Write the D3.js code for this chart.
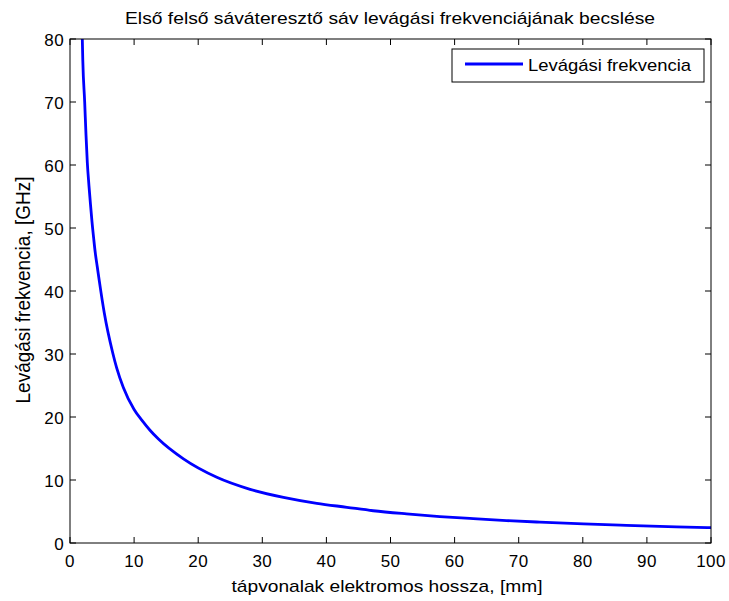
<!DOCTYPE html>
<html lang="hu">
  <head>
    <meta charset="utf-8" />
    <title>Levágási frekvencia</title>
    <script src="https://d3js.org/d3.v7.min.js"></script>
    <style>
      body {
        margin: 0;
        background: #fff;
        font-family: "Liberation Sans", Arial, sans-serif;
      }
      svg text {
        fill: #000;
      }
    </style>
  </head>
  <body>
    <svg id="chart" width="729" height="601"></svg>
    <script>
      // values
      const lengthMm = [1.92, 2.0, 2.29, 2.5, 2.7, 2.96, 3.2, 3.43, 3.7, 3.95, 4.26, 4.57, 5.35, 6.66, 7.28,
        8.32, 10, 11.2, 12.48, 13.8, 17.7, 22.9, 28.1, 33.3, 38.5, 43.2, 47.3, 52.5, 57.7, 62.9, 68.1,
        73.3, 80.1, 86.8, 94.6, 100];
      const freqGHz = [80, 76.5, 70, 64.7, 60.4, 56.7, 53.7, 51, 48.3, 46, 43.8, 41.6, 36.5, 30.2, 27.8,
        24.7, 21.2, 19.5, 17.9, 16.5, 13.35, 10.43, 8.52, 7.25, 6.3, 5.67, 5.12, 4.62, 4.2, 3.86, 3.56,
        3.31, 3.03, 2.8, 2.57, 2.43];
      const xTicks = [0, 10, 20, 30, 40, 50, 60, 70, 80, 90, 100];
      const yTicks = [0, 10, 20, 30, 40, 50, 60, 70, 80];

      const titleText = "Első felső sáváteresztő sáv levágási frekvenciájának becslése";
      const xLabel = "tápvonalak elektromos hossza, [mm]";
      const yLabel = "Levágási frekvencia, [GHz]";
      const legendText = "Levágási frekvencia";

      const svg = d3.select("#chart");
      const m = { left: 70, right: 711, top: 39, bottom: 543 };

      const x = d3.scaleLinear().domain([0, 100]).range([m.left, m.right]);
      const y = d3.scaleLinear().domain([0, 80]).range([m.bottom, m.top]);

      const data = lengthMm.map((l, i) => ({ l: l, f: freqGHz[i] }));

      // clip to the plot box
      svg.append("clipPath").attr("id", "box")
        .append("rect")
        .attr("x", m.left).attr("y", m.top)
        .attr("width", m.right - m.left).attr("height", m.bottom - m.top);

      const line = d3.line()
        .x((d) => x(d.l))
        .y((d) => y(d.f))
        .curve(d3.curveMonotoneX);

      svg.append("path")
        .datum(data)
        .attr("clip-path", "url(#box)")
        .attr("fill", "none")
        .attr("stroke", "#0000ff")
        .attr("stroke-width", 2.8)
        .attr("d", line);

      // axes, ticks inward on all four sides (matlab style)
      const tickLen = 6;
      const axisG = svg.append("g").attr("stroke", "#000").attr("stroke-width", 1);

      axisG.append("rect")
        .attr("x", m.left).attr("y", m.top)
        .attr("width", m.right - m.left).attr("height", m.bottom - m.top)
        .attr("fill", "none");

      xTicks.forEach((t) => {
        axisG.append("line").attr("x1", x(t)).attr("x2", x(t))
          .attr("y1", m.bottom).attr("y2", m.bottom - tickLen);
        axisG.append("line").attr("x1", x(t)).attr("x2", x(t))
          .attr("y1", m.top).attr("y2", m.top + tickLen);
      });
      yTicks.forEach((t) => {
        axisG.append("line").attr("x1", m.left).attr("x2", m.left + tickLen)
          .attr("y1", y(t)).attr("y2", y(t));
        axisG.append("line").attr("x1", m.right).attr("x2", m.right - tickLen)
          .attr("y1", y(t)).attr("y2", y(t));
      });

      svg.selectAll("text.xtick")
        .data(xTicks)
        .enter()
        .append("text")
        .attr("class", "xtick")
        .attr("x", (d) => x(d))
        .attr("y", m.bottom + 24)
        .attr("text-anchor", "middle")
        .attr("font-size", 17)
        .attr("letter-spacing", 0.4)
        .text((d) => d);

      svg.selectAll("text.ytick")
        .data(yTicks)
        .enter()
        .append("text")
        .attr("class", "ytick")
        .attr("x", m.left - 6)
        .attr("y", (d) => y(d) + 7)
        .attr("text-anchor", "end")
        .attr("font-size", 17)
        .attr("letter-spacing", 0.4)
        .text((d) => d);

      // title and axis labels (the original text looks stretched sideways)
      svg.append("text")
        .attr("x", 390)
        .attr("y", 24)
        .attr("text-anchor", "middle")
        .attr("font-size", 17)
        .attr("textLength", 530)
        .attr("lengthAdjust", "spacingAndGlyphs")
        .text(titleText);

      svg.append("text")
        .attr("x", 387)
        .attr("y", 592)
        .attr("text-anchor", "middle")
        .attr("font-size", 17)
        .attr("textLength", 311)
        .attr("lengthAdjust", "spacingAndGlyphs")
        .text(xLabel);

      svg.append("text")
        .attr("transform", "translate(30,290) rotate(-90) scale(1,1.1)")
        .attr("text-anchor", "middle")
        .attr("font-size", 19)
        .text(yLabel);

      // legend
      const lg = svg.append("g");
      lg.append("rect")
        .attr("x", 452).attr("y", 49)
        .attr("width", 252).attr("height", 33)
        .attr("fill", "#fff")
        .attr("stroke", "#000");
      lg.append("line")
        .attr("x1", 465).attr("x2", 523)
        .attr("y1", 64).attr("y2", 64)
        .attr("stroke", "#0000ff")
        .attr("stroke-width", 2.8);
      lg.append("text")
        .attr("x", 528).attr("y", 71)
        .attr("font-size", 17)
        .attr("textLength", 163)
        .attr("lengthAdjust", "spacingAndGlyphs")
        .text(legendText);
    </script>
  </body>
</html>
